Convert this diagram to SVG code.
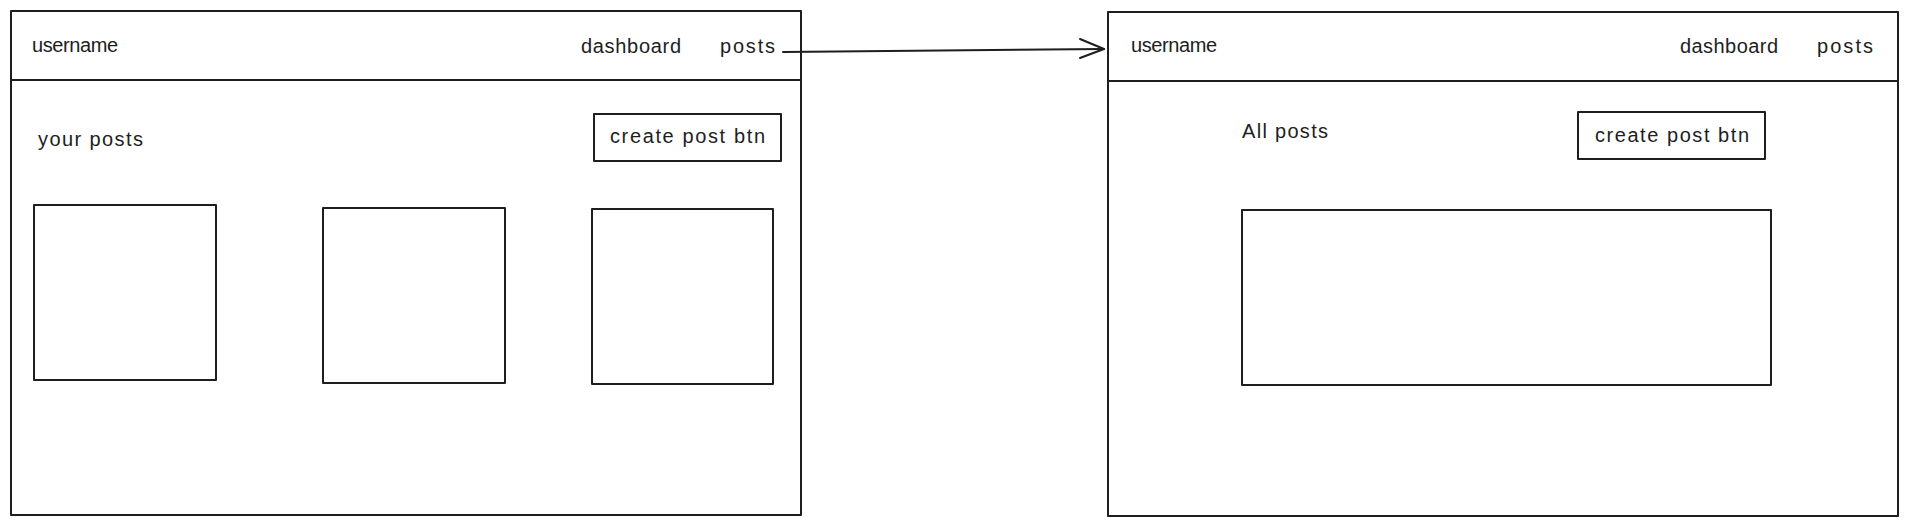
<svg xmlns="http://www.w3.org/2000/svg" width="1908" height="526" viewBox="0 0 1908 526">
<style>
.box{fill:#ffffff;stroke:#1e1e1e;stroke-width:2;stroke-linejoin:round}
.ln{fill:none;stroke:#1e1e1e;stroke-width:2;stroke-linecap:round;stroke-linejoin:round}
.t{font-family:"Liberation Sans",Arial,sans-serif;font-size:20px;fill:#1e1e1e}
</style>
<rect x="0" y="0" width="1908" height="526" fill="#ffffff"/>
<g id="page-dashboard">
  <rect class="box" x="11" y="11" width="790" height="504"/>
  <line class="ln" x1="11" y1="80" x2="801" y2="80"/>
  <text class="t" x="32" y="52" textLength="86">username</text>
  <text class="t" x="581" y="53" textLength="100">dashboard</text>
  <text class="t" x="720" y="53" textLength="55">posts</text>
  <text class="t" x="38" y="146" textLength="105">your posts</text>
</g>
<g id="btn-create-left">
  <rect class="box" x="594" y="114" width="187" height="47"/>
  <text class="t" x="610" y="143" textLength="155">create post btn</text>
</g>
<g id="card-1"><rect class="box" x="34" y="205" width="182" height="175"/></g>
<g id="card-2"><rect class="box" x="323" y="208" width="182" height="175"/></g>
<g id="card-3"><rect class="box" x="592" y="209" width="181" height="175"/></g>
<g id="page-posts">
  <rect class="box" x="1108" y="12" width="790" height="504"/>
  <line class="ln" x1="1108" y1="81" x2="1898" y2="81"/>
  <text class="t" x="1131" y="52" textLength="86">username</text>
  <text class="t" x="1680" y="53" textLength="98">dashboard</text>
  <text class="t" x="1817" y="53" textLength="56">posts</text>
  <text class="t" x="1242" y="138" textLength="86">All posts</text>
</g>
<g id="btn-create-right">
  <rect class="box" x="1578" y="112" width="187" height="47"/>
  <text class="t" x="1595" y="142" textLength="154">create post btn</text>
</g>
<g id="posts-list"><rect class="box" x="1242" y="210" width="529" height="175"/></g>
<g id="connectors">
  <path class="ln" d="M783 52 L1104 49"/>
  <path class="ln" d="M1080 39 L1104 49 L1080 58"/>
</g>
</svg>
